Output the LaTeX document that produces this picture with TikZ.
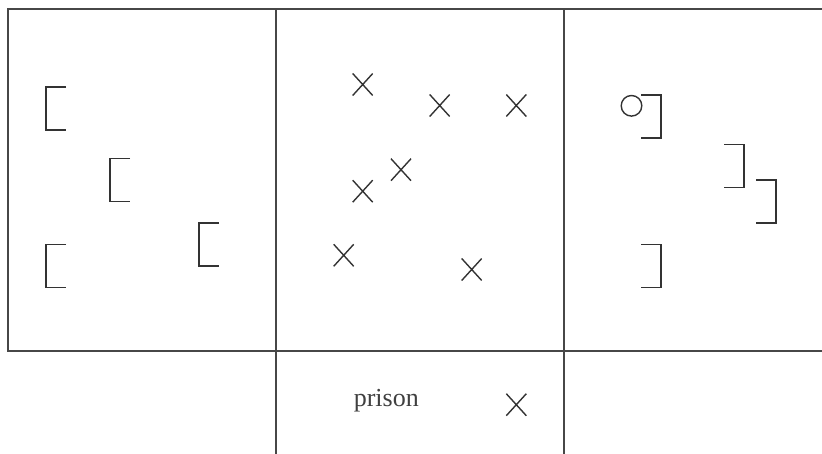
\documentclass[tikz,border=0pt]{standalone}
\usepackage{fontspec}
\setmainfont{Liberation Serif}
\begin{document}
\begin{tikzpicture}[x=1pt,y=-1pt,
  frame/.style={draw=black!72,line width=1.8pt},
  glyph/.style={draw=black!80,line width=1.4pt},
  lbr/.pic={\path[glyph] (10,-21.5) -- (-10,-21.5) -- (-10,21.5) -- (10,21.5);},
  rbr/.pic={\path[glyph] (-10,-21.5) -- (10,-21.5) -- (10,21.5) -- (-10,21.5);},
  xmark/.pic={\path[glyph] (-10,-11) -- (10,11) (-10,11) -- (10,-11);}]
\useasboundingbox (0,0) rectangle (822,454);
% frame lines
\coordinate (tl) at (8,9);
\coordinate (tr) at (822,9);
\coordinate (ml) at (8,351);
\coordinate (mr) at (822,351);
\coordinate (v1t) at (276,9);
\coordinate (v1b) at (276,454);
\coordinate (v2t) at (564,9);
\coordinate (v2b) at (564,454);
\draw[frame] (tr) -- (tl) -- (ml) -- (mr);
\draw[frame] (v1t) -- (v1b);
\draw[frame] (v2t) -- (v2b);
% left panel brackets
\pic at (56,108.5) {lbr};
\pic at (120,180) {lbr};
\pic at (209,244.5) {lbr};
\pic at (56,266) {lbr};
% middle panel crosses
\pic at (362.7,84.5) {xmark};
\pic at (439.7,105.5) {xmark};
\pic at (516.3,105.5) {xmark};
\pic at (401,169.7) {xmark};
\pic at (362.7,191.2) {xmark};
\pic at (343.7,255.3) {xmark};
\pic at (471.7,269.5) {xmark};
% right panel
\draw[glyph] (631.5,105.8) circle (10.3);
\pic at (651,116.5) {rbr};
\pic at (734,166.2) {rbr};
\pic at (766,201.7) {rbr};
\pic at (651,265.8) {rbr};
% prison
\node[anchor=base,inner sep=0pt,text=black!75,font=\fontsize{26}{30}\selectfont] (prison) at (386.3,406.7) {prison};
\pic at (516.3,404.7) {xmark};
\end{tikzpicture}
\end{document}
